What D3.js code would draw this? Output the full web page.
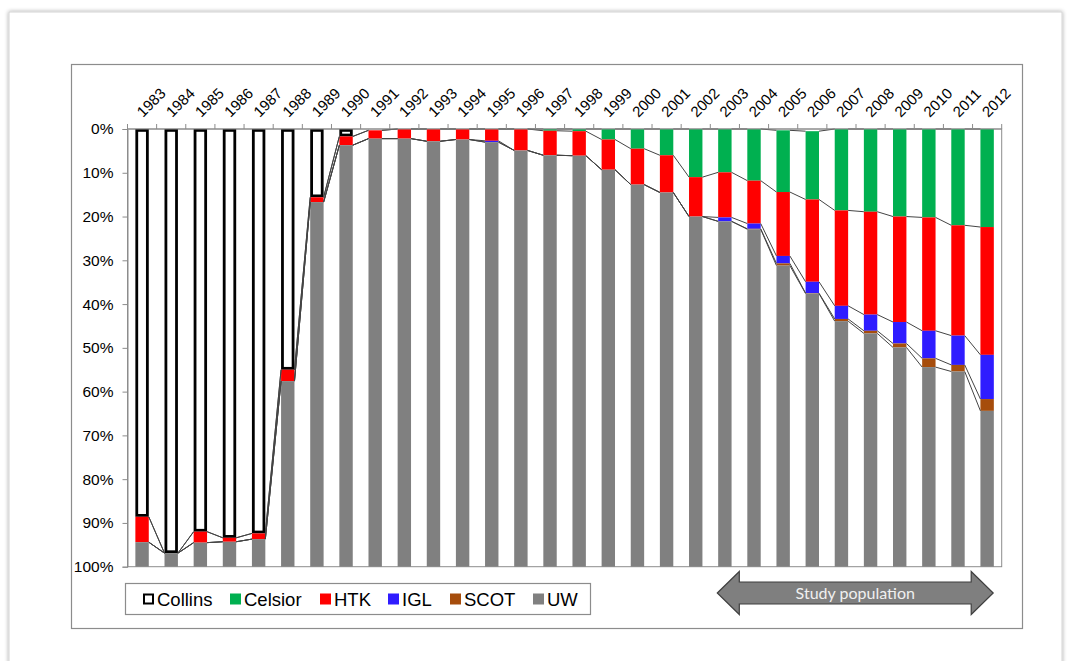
<!DOCTYPE html>
<html>
<head>
<meta charset="utf-8">
<script src="https://cdn.jsdelivr.net/npm/d3@7"></script>
<style>
  body { margin: 0; background: #fff; }
  svg { display: block; }
</style>
</head>
<body>
<svg id="chart" width="1069" height="661"></svg>
<script>
// Share of preservation solutions used per year (% of procedures)
const years   = ["1983","1984","1985","1986","1987","1988","1989","1990","1991","1992",
                 "1993","1994","1995","1996","1997","1998","1999","2000","2001","2002",
                 "2003","2004","2005","2006","2007","2008","2009","2010","2011","2012"];
const collins = [88.6, 96.9, 92.0, 93.4, 92.4, 55.0, 15.6, 1.7, 0.3, 0,
                 0, 0, 0, 0, 0, 0, 0, 0, 0, 0,
                 0, 0, 0.3, 0.5, 0, 0, 0, 0, 0, 0];
const celsior = [0, 0, 0, 0, 0, 0, 0, 0, 0, 0,
                 0, 0, 0, 0, 0.4, 0.5, 2.4, 4.5, 6.0, 11.0,
                 9.9, 11.8, 14.1, 15.6, 18.6, 18.9, 20.0, 20.2, 22.0, 22.4];
const htk     = [5.8, 0, 2.5, 0.9, 1.3, 2.6, 1.1, 2.0, 1.9, 2.2,
                 2.8, 2.4, 2.7, 4.9, 5.6, 5.6, 6.9, 8.2, 8.5, 9.0,
                 10.3, 9.8, 14.6, 18.8, 21.8, 23.5, 24.1, 25.9, 25.2, 29.2];
const igl     = [0, 0, 0, 0, 0, 0, 0, 0, 0, 0,
                 0, 0, 0.3, 0, 0, 0, 0, 0, 0, 0,
                 0.9, 1.2, 1.7, 2.6, 3.0, 3.7, 4.9, 6.3, 6.7, 10.1];
const scot    = [0, 0, 0, 0, 0, 0, 0, 0, 0, 0,
                 0, 0, 0, 0, 0, 0, 0, 0, 0, 0,
                 0, 0.1, 0.5, 0.1, 0.5, 0.6, 0.9, 2.0, 1.5, 2.7];
const uw      = [5.6, 3.1, 5.5, 5.7, 6.3, 42.4, 83.3, 96.3, 97.8, 97.8,
                 97.2, 97.6, 97.0, 95.1, 94.0, 93.9, 90.7, 87.3, 85.5, 80.0,
                 78.9, 77.1, 68.8, 62.4, 56.1, 53.3, 50.1, 45.6, 44.6, 35.6];
const yTicks  = [0, 10, 20, 30, 40, 50, 60, 70, 80, 90, 100];
const seriesNames = ["Collins", "Celsior", "HTK", "IGL", "SCOT", "UW"];
const arrowLabel = "Study population";

const colors = {
  Collins: "#ffffff",
  Celsior: "#00b050",
  HTK: "#ff0000",
  IGL: "#2f1cff",
  SCOT: "#a64d0c",
  UW: "#808080"
};

const seriesValues = { Collins: collins, Celsior: celsior, HTK: htk, IGL: igl, SCOT: scot, UW: uw };
const rows = years.map((yr, i) => {
  const r = { year: yr };
  seriesNames.forEach(k => { r[k] = seriesValues[k][i]; });
  return r;
});
const layers = d3.stack().keys(seriesNames)(rows);

const svg = d3.select("#chart");
const font = "'Liberation Sans', Arial, sans-serif";

// page frame with soft shadow
const defs = svg.append("defs");
const shadow = defs.append("filter").attr("id", "pageShadow")
  .attr("x", "-5%").attr("y", "-5%").attr("width", "110%").attr("height", "110%");
shadow.append("feGaussianBlur").attr("in", "SourceAlpha").attr("stdDeviation", 2.2).attr("result", "b");
shadow.append("feComponentTransfer").attr("in", "b").attr("result", "s")
  .append("feFuncA").attr("type", "linear").attr("slope", 0.35);
const merge = shadow.append("feMerge");
merge.append("feMergeNode").attr("in", "s");
merge.append("feMergeNode").attr("in", "SourceGraphic");

svg.append("rect")
  .attr("x", 9).attr("y", 12).attr("width", 1053).attr("height", 700)
  .attr("fill", "#fff").attr("stroke", "#d4d4d4").attr("stroke-width", 1)
  .attr("filter", "url(#pageShadow)");

// chart frame
svg.append("rect")
  .attr("x", 71.5).attr("y", 64.5).attr("width", 951).attr("height", 564)
  .attr("fill", "#fff").attr("stroke", "#8c8c8c").attr("stroke-width", 1.2);

const plotL = 127.5, plotR = 1001.7, plotT = 129, plotB = 566.7;

const x = d3.scaleBand().domain(years).range([plotL, plotR])
  .paddingInner(0.54).paddingOuter(0.27);
const y = d3.scaleLinear().domain([0, 100]).range([plotT, plotB]);
const bw = x.bandwidth();
const gap = x.step() - bw;

// plot area border
svg.append("rect")
  .attr("x", plotL).attr("y", plotT).attr("width", plotR - plotL).attr("height", plotB - plotT)
  .attr("fill", "none").attr("stroke", "#8c8c8c").attr("stroke-width", 1);

// bars
const gBars = svg.append("g");
layers.forEach(layer => {
  const key = layer.key;
  const g = gBars.append("g");
  if (key === "Collins") {
    const sw = 2.8;
    g.selectAll("rect").data(layer.filter(d => d[1] - d[0] > 0)).join("rect")
      .attr("x", d => x(d.data.year) + sw / 2)
      .attr("width", bw - sw)
      .attr("y", d => y(d[0]) + sw / 2)
      .attr("height", d => Math.max(0, y(d[1]) - y(d[0]) - sw))
      .attr("fill", "#fff")
      .attr("stroke", "#000")
      .attr("stroke-width", sw);
  } else {
    g.selectAll("rect").data(layer.filter(d => d[1] - d[0] > 0)).join("rect")
      .attr("x", d => x(d.data.year))
      .attr("width", bw)
      .attr("y", d => y(d[0]))
      .attr("height", d => y(d[1]) - y(d[0]))
      .attr("fill", colors[key]);
  }
});

// series lines joining segment boundaries of neighbouring bars
const gLines = svg.append("g");
layers.slice(0, seriesNames.length - 1).forEach(layer => {
  for (let i = 0; i < layer.length - 1; i++) {
    const a = layer[i], b = layer[i + 1];
    gLines.append("line")
      .attr("x1", x(a.data.year) + bw).attr("y1", y(a[1]))
      .attr("x2", x(b.data.year)).attr("y2", y(b[1]))
      .attr("stroke", "#444").attr("stroke-width", 1);
  }
});

// y axis (0% at top)
const yAxis = svg.append("g")
  .attr("transform", `translate(${plotL},0)`)
  .call(d3.axisLeft(y).tickValues(yTicks).tickFormat(d => d + "%").tickSize(5).tickPadding(9));
yAxis.select(".domain").attr("stroke", "#8c8c8c");
yAxis.selectAll(".tick line").attr("stroke", "#8c8c8c");
yAxis.selectAll("text").attr("font-family", font).attr("font-size", 15.5).attr("fill", "#000");

// category axis along the top
const gX = svg.append("g");
gX.append("line").attr("x1", plotL).attr("x2", plotR).attr("y1", plotT).attr("y2", plotT)
  .attr("stroke", "#8c8c8c");
const boundaries = years.map(yr => x(yr) - gap / 2).concat([x(years[years.length - 1]) + bw + gap / 2]);
gX.selectAll("line.tk").data(boundaries).join("line").attr("class", "tk")
  .attr("x1", d => d).attr("x2", d => d).attr("y1", plotT).attr("y2", plotT - 5)
  .attr("stroke", "#8c8c8c");
gX.selectAll("text").data(years).join("text")
  .attr("transform", d => `translate(${x(d) + bw / 2 + 1},${plotT - 11}) rotate(-45)`)
  .attr("font-family", font).attr("font-size", 15).attr("fill", "#000")
  .text(d => d);

// legend
const legendX = [143, 230, 320, 388, 450, 533];
const gLeg = svg.append("g");
gLeg.append("rect").attr("x", 125.5).attr("y", 583.5).attr("width", 465).attr("height", 31)
  .attr("fill", "#fff").attr("stroke", "#8c8c8c").attr("stroke-width", 1.2);
seriesNames.forEach((k, i) => {
  const lx = legendX[i];
  if (k === "Collins") {
    gLeg.append("rect").attr("x", lx + 1).attr("y", 594.5).attr("width", 9).attr("height", 9)
      .attr("fill", "#fff").attr("stroke", "#000").attr("stroke-width", 2);
  } else {
    gLeg.append("rect").attr("x", lx).attr("y", 593.5).attr("width", 11).attr("height", 11)
      .attr("fill", colors[k]);
  }
  gLeg.append("text").attr("x", lx + 14).attr("y", 605.5)
    .attr("font-family", font).attr("font-size", 18.5).attr("fill", "#000").text(k);
});

// double-headed arrow marking the study years
const arrowL = x("2003") - gap / 2 + 7, arrowR = plotR - 8.5;
const headW = 22, yc = 593, shaftH = 11, headH = 21.5;
const arrowPts = [
  [arrowL, yc], [arrowL + headW, yc - headH], [arrowL + headW, yc - shaftH],
  [arrowR - headW, yc - shaftH], [arrowR - headW, yc - headH], [arrowR, yc],
  [arrowR - headW, yc + headH], [arrowR - headW, yc + shaftH],
  [arrowL + headW, yc + shaftH], [arrowL + headW, yc + headH]
];
svg.append("polygon")
  .attr("points", arrowPts.map(p => p.join(",")).join(" "))
  .attr("fill", "#7f7f7f").attr("stroke", "#3f3f3f").attr("stroke-width", 1.2);
svg.append("text")
  .attr("x", (arrowL + arrowR) / 2).attr("y", yc + 5.5)
  .attr("text-anchor", "middle")
  .attr("font-family", "Lato, 'Open Sans', sans-serif").attr("font-size", 16)
  .attr("fill", "#f0f0f0").text(arrowLabel);
</script>
</body>
</html>
